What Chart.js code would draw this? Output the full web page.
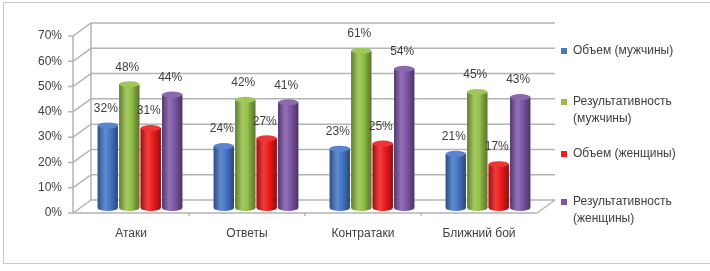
<!DOCTYPE html>
<html>
<head>
<meta charset="utf-8">
<script src="https://cdn.jsdelivr.net/npm/chart.js@4/dist/chart.umd.min.js"></script>
<style>
  body { margin: 0; background: #fff; }
  #wrap { position: relative; width: 710px; height: 271px; font-family: "Liberation Sans", Arial, sans-serif; }
  #frame { position: absolute; left: 3px; top: 2px; width: 712px; height: 260px; border: 1.5px solid #c9c9c9; border-right: none; }
  #chartData { position: absolute; left: 0; top: 0; }
  .leg { position: absolute; left: 561px; font-size: 12px; line-height: 17px; color: #404040; }
  .leg i { position: absolute; left: 0; width: 6px; height: 6px; }
  .leg span { position: absolute; left: 12px; white-space: nowrap; }
</style>
</head>
<body>
<div id="wrap">
  <div id="frame"></div>
  <canvas id="chartData" width="710" height="271"></canvas>
  <div id="legend"></div>
</div>
<script>
const categories = ['Атаки', 'Ответы', 'Контратаки', 'Ближний бой'];
const seriesNames = [['Объем (мужчины)'], ['Результативность', '(мужчины)'], ['Объем (женщины)'], ['Результативность', '(женщины)']];
const volumeMen = [32, 24, 23, 21];
const effectMen = [48, 42, 61, 45];
const volumeWomen = [31, 27, 25, 17];
const effectWomen = [44, 41, 54, 43];
const yTicks = [0, 10, 20, 30, 40, 50, 60, 70];
const colors = ['#4677c8', '#94c047', '#ee1c1c', '#7e58a8'];
const legendTops = [42, 93, 145, 193];

const allSeries = [volumeMen, effectMen, volumeWomen, effectWomen];

// legend
const legend = document.getElementById('legend');
seriesNames.forEach((lines, i) => {
  const d = document.createElement('div');
  d.className = 'leg';
  d.style.top = legendTops[i] + 'px';
  const sq = document.createElement('i');
  sq.style.background = colors[i];
  sq.style.top = '6px';
  d.appendChild(sq);
  lines.forEach((t, k) => {
    const s = document.createElement('span');
    s.textContent = t;
    s.style.top = (k * 17) + 'px';
    d.appendChild(s);
  });
  legend.appendChild(d);
});

function shade(hex, f) {
  const n = parseInt(hex.slice(1), 16);
  let r = n >> 16, g = (n >> 8) & 255, b = n & 255;
  if (f < 0) { r *= 1 + f; g *= 1 + f; b *= 1 + f; }
  else { r += (255 - r) * f; g += (255 - g) * f; b += (255 - b) * f; }
  return `rgb(${Math.round(r)},${Math.round(g)},${Math.round(b)})`;
}

const DX = 9, DEPTH = 13;

const walls = {
  id: 'walls',
  beforeDatasetsDraw(chart) {
    const ctx = chart.ctx, ca = chart.chartArea, y = chart.scales.y;
    const fl = ca.left - DX, fr = ca.right - DX, bl = ca.left + DX, br = ca.right + DX;
    ctx.save();
    ctx.strokeStyle = '#b4b4b4';
    ctx.lineWidth = 1.5;
    yTicks.forEach(v => {
      const fy = y.getPixelForValue(v);
      ctx.beginPath();
      ctx.moveTo(fl - 5, fy);
      ctx.lineTo(fl, fy);
      ctx.lineTo(bl, fy - DEPTH);
      if (v > 0) ctx.lineTo(br, fy - DEPTH);
      ctx.stroke();
    });
    const y0 = y.getPixelForValue(0), yT = y.getPixelForValue(70);
    ctx.beginPath();
    ctx.moveTo(fl, y0); ctx.lineTo(fl, yT);
    ctx.moveTo(bl, y0 - DEPTH); ctx.lineTo(bl, yT - DEPTH);
    ctx.moveTo(bl, y0 - DEPTH); ctx.lineTo(br, y0 - DEPTH);
    ctx.moveTo(fl, y0); ctx.lineTo(fr, y0); ctx.lineTo(br, y0 - DEPTH);
    ctx.stroke();
    // small marks between categories on the floor edge
    for (let i = 1; i < categories.length; i++) {
      const xm = (chart.scales.x.getPixelForValue(i - 1) + chart.scales.x.getPixelForValue(i)) / 2 - DX;
      ctx.beginPath(); ctx.moveTo(xm, y0); ctx.lineTo(xm, y0 + 3); ctx.stroke();
    }
    ctx.restore();
  }
};

const cylinders = {
  id: 'cylinders',
  afterDatasetsDraw(chart) {
    const ctx = chart.ctx;
    ctx.save();
    chart.data.datasets.forEach((ds, di) => {
      const meta = chart.getDatasetMeta(di);
      const c = colors[di];
      meta.data.forEach((bar, i) => {
        const w = bar.width, l = bar.x - w / 2, r = bar.x + w / 2, ry = 3;
        const g = ctx.createLinearGradient(l, 0, r, 0);
        g.addColorStop(0, shade(c, -0.35));
        g.addColorStop(0.35, shade(c, 0.15));
        g.addColorStop(0.6, c);
        g.addColorStop(1, shade(c, -0.4));
        ctx.fillStyle = g;
        ctx.beginPath();
        ctx.moveTo(l, bar.y);
        ctx.lineTo(l, bar.base);
        ctx.ellipse(bar.x, bar.base, w / 2, ry, 0, Math.PI, 0, true);
        ctx.lineTo(r, bar.y);
        ctx.closePath();
        ctx.fill();
        ctx.fillStyle = shade(c, 0.1);
        ctx.beginPath();
        ctx.ellipse(bar.x, bar.y, w / 2, ry, 0, 0, Math.PI * 2);
        ctx.fill();
        ctx.fillStyle = '#404040';
        ctx.font = '12px "Liberation Sans", Arial, sans-serif';
        ctx.textAlign = 'center';
        ctx.textBaseline = 'middle';
        ctx.fillText(ds.data[i] + '%', bar.x - 2, bar.y - 17);
      });
    });
    ctx.restore();
  }
};

new Chart(document.getElementById('chartData'), {
  type: 'bar',
  data: {
    labels: categories,
    datasets: allSeries.map((d, i) => ({
      label: seriesNames[i].join(' '),
      data: d,
      yAxisID: 'yb',
      backgroundColor: colors[i],
      barPercentage: 0.94,
      categoryPercentage: 0.74,
    })),
  },
  options: {
    responsive: false,
    animation: false,
    devicePixelRatio: 1,
    layout: { padding: { left: 0, right: 164, top: 36, bottom: 28 } },
    plugins: { legend: { display: false }, tooltip: { enabled: false } },
    scales: {
      x: {
        grid: { display: false, drawTicks: false },
        border: { display: false },
        ticks: { color: '#404040', font: { size: 12, family: '"Liberation Sans", Arial' }, padding: 13, labelOffset: -9, maxRotation: 0 },
        afterFit: s => { s.height = 30; },
      },
      y: {
        min: 0, max: 70,
        grid: { display: false, drawTicks: false },
        border: { display: false },
        ticks: { stepSize: 10, color: '#404040', font: { size: 12, family: '"Liberation Sans", Arial' }, padding: 20, callback: v => v + '%' },
        afterFit: s => { s.width = 82; },
      },
      yb: { display: false, min: -1.94, max: 66.7 },
    },
  },
  plugins: [walls, cylinders],
});
</script>
</body>
</html>
